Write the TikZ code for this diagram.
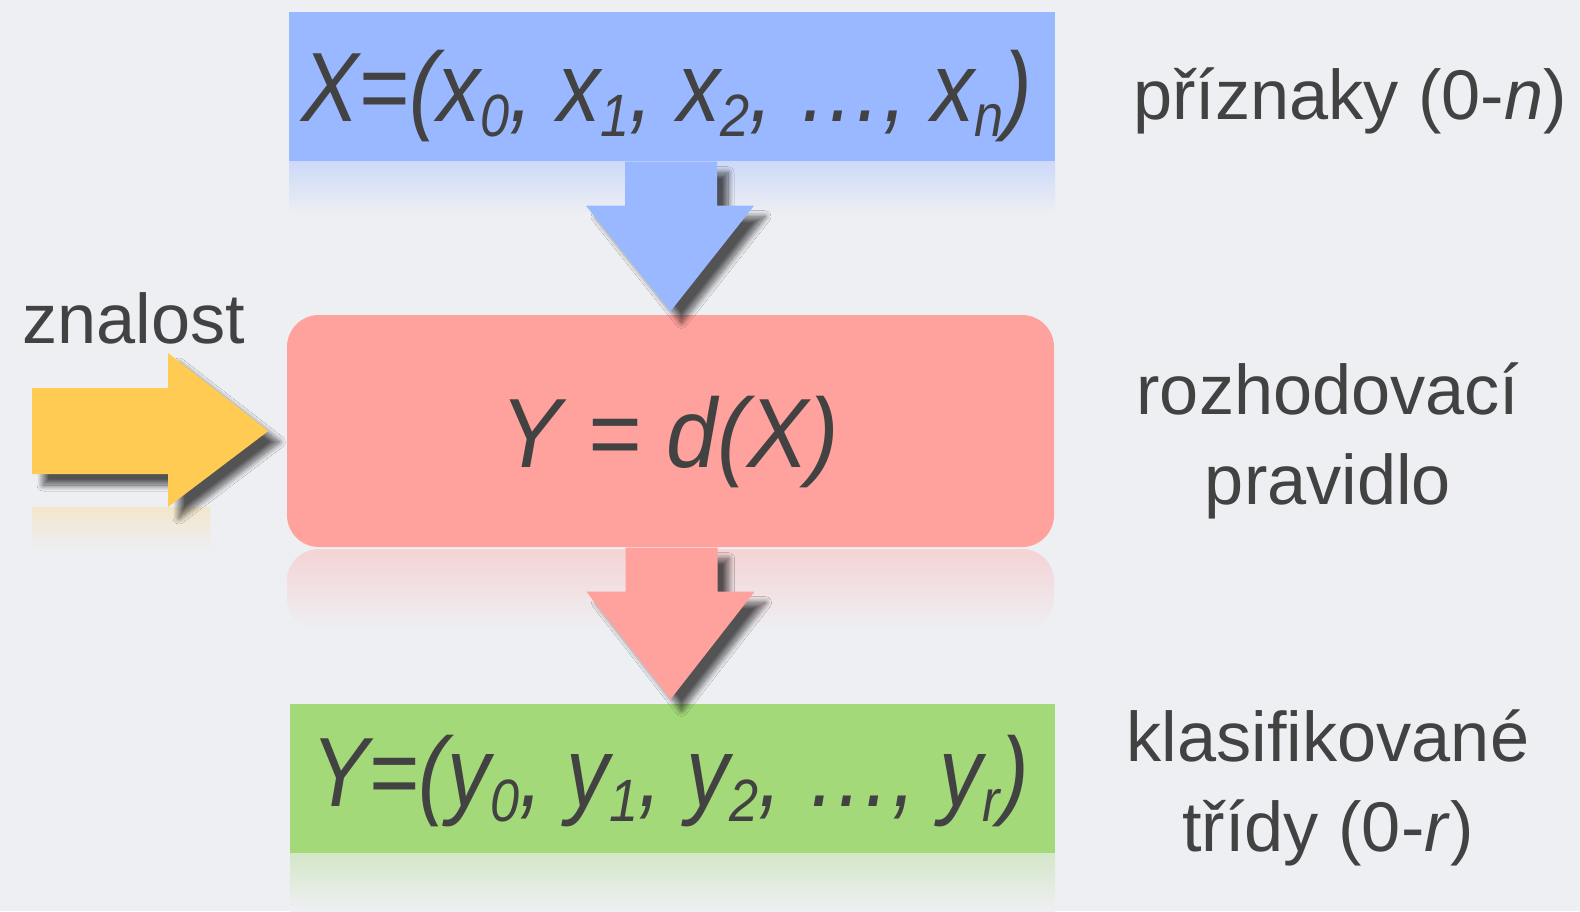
\documentclass[tikz,border=0pt]{standalone}
\usepackage{fontspec}
\usepackage{graphicx}
\setmainfont{Liberation Sans}
\usetikzlibrary{shadows.blur,calc}
\definecolor{bg}{RGB}{238,239,243}
\definecolor{bluef}{RGB}{153,184,255}
\definecolor{redf}{RGB}{255,161,156}
\definecolor{greenf}{RGB}{164,217,122}
\definecolor{yellowf}{RGB}{255,203,82}
\definecolor{txt}{RGB}{66,66,66}
\newcommand{\mysub}[1]{\raisebox{-0.16em}{\fontsize{17}{17}\selectfont #1}}
\tikzset{
  plainbox/.style={inner sep=0pt, minimum width=76.6mm, minimum height=14.9mm},
  formula/.style={text=txt, inner sep=0pt, font=\fontsize{28}{30}\selectfont\itshape},
  label/.style={text=txt, inner sep=0pt, align=center, font=\fontsize{20}{25.6}\selectfont},
  ashadow/.style={blur shadow={shadow xshift=1.1mm, shadow yshift=-1.1mm, shadow blur radius=0.6mm, shadow opacity=65, shadow blur steps=12}}
}
\begin{document}
\begin{tikzpicture}[x=0.1mm,y=-0.1mm]
\fill[bg] (0,0) rectangle (1580,911);
\useasboundingbox (0,0) rectangle (1580,911);
% reflections
\shade[top color=bluef!40!bg, bottom color=bg] (289,161) rectangle (1055,215);
\shade[top color=redf!35!bg, bottom color=bg, rounded corners=3.2mm] (287,549) rectangle (1054,630);
\shade[top color=greenf!35!bg, bottom color=bg] (290,853) rectangle (1055,911);
\shade[top color=yellowf!25!bg, bottom color=bg] (32,507) rectangle (210,550);
% boxes
\node[plainbox, fill=bluef] (bluebox) at (672,86.5) {};
\node[plainbox, fill=redf, minimum width=76.7mm, minimum height=23.2mm, rounded corners=3.2mm] (redbox) at (670.5,431) {};
\node[plainbox, fill=greenf, minimum width=76.5mm] (greenbox) at (672.5,778.5) {};
% formulas
\node[formula, anchor=base] (fx) at (667,121) {\scalebox{0.875}[1]{X=(x\mysub{0}, x\mysub{1}, x\mysub{2}, …, x\mysub{n})}};
\node[formula, anchor=base] (fd) at (670,467) {\scalebox{0.93}[1]{Y = d(X)}};
\node[formula, anchor=base] (fy) at (670,806) {\scalebox{0.873}[1]{Y=(y\mysub{0}, y\mysub{1}, y\mysub{2}, …, y\mysub{r})}};
% arrows
\fill[bluef, ashadow] ($(bluebox.south)+(-47,0)$) -- ($(bluebox.south)+(-47,44)$) -- ($(bluebox.south)+(-86,44)$)
  -- ($(redbox.north)+(0,-3)$) -- ($(bluebox.south)+(82,44)$) -- ($(bluebox.south)+(45,44)$) -- ($(bluebox.south)+(45,0)$) -- cycle;
\fill[redf, ashadow] ($(redbox.south)+(-45,0)$) -- ($(redbox.south)+(-45,44)$) -- ($(redbox.south)+(-84,44)$)
  -- ($(greenbox.north)+(-2,-4)$) -- ($(redbox.south)+(84,44)$) -- ($(redbox.south)+(47,44)$) -- ($(redbox.south)+(47,0)$) -- cycle;
\coordinate (ystart) at (32,431);
\fill[yellowf, ashadow] ($(ystart)+(0,-43)$) -- ($(ystart)+(136,-43)$) -- ($(ystart)+(136,-78)$)
  -- ($(redbox.west)+(-18,0)$) -- ($(ystart)+(136,76)$) -- ($(ystart)+(136,43)$) -- ($(ystart)+(0,43)$) -- cycle;
% labels
\node[label, anchor=base] (lx) at (1350,119) {příznaky (0-\textit{n})};
\node[label, anchor=base] (lk) at (134,343) {znalost};
\node[label, anchor=base] (ld) at (1328,504) {rozhodovací\\pravidlo};
\node[label, anchor=base] (ly) at (1328,851) {klasifikované\\třídy (0-\textit{r})};
\end{tikzpicture}
\end{document}
